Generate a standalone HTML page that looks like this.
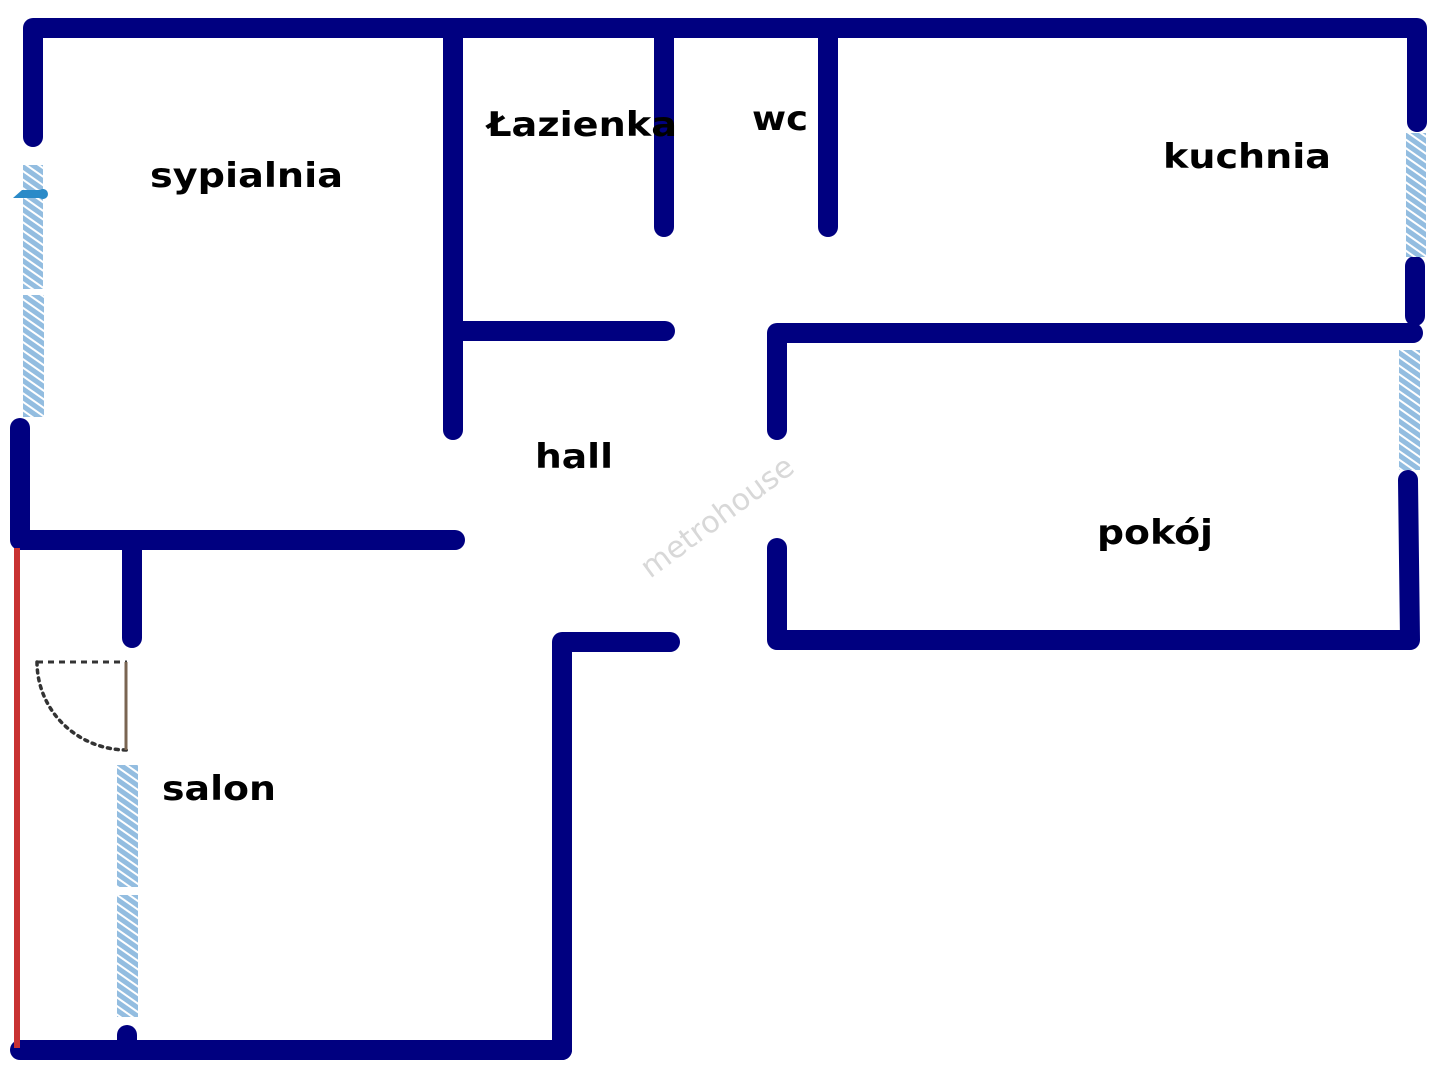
<!DOCTYPE html>
<html><head><meta charset="utf-8"><style>
html,body{margin:0;padding:0;background:#fff;width:1440px;height:1080px;overflow:hidden}
text{font-family:"DejaVu Sans","Liberation Sans",sans-serif;font-weight:bold;fill:#000}
</style></head><body>
<svg width="1440" height="1080" viewBox="0 0 1440 1080" xmlns="http://www.w3.org/2000/svg">
<defs>
<pattern id="h" width="7" height="7" patternUnits="userSpaceOnUse" patternTransform="rotate(35)">
<rect width="7" height="7" fill="#93bde0"/><rect width="7" height="2" fill="#fff"/>
</pattern>
</defs>
<g stroke="#000080" stroke-width="20" stroke-linecap="round" fill="none" stroke-linejoin="round">
<polyline points="33,137 33,28 1417,28 1417,122"/>
<line x1="1415" y1="266" x2="1415" y2="316"/>
<polyline points="777,430 777,333 1413,333"/>
<polyline points="777,548 777,640 1410,640 1408,480"/>
<line x1="453" y1="28" x2="453" y2="430"/>
<line x1="453" y1="331" x2="665" y2="331"/>
<line x1="664" y1="28" x2="664" y2="227"/>
<line x1="828" y1="28" x2="828" y2="227"/>
<polyline points="20,428 20,540 455,540"/>
<line x1="132" y1="540" x2="132" y2="638"/>
<line x1="20" y1="1050" x2="562" y2="1050"/>
<polyline points="562,1050 562,642 670,642"/>
<line x1="127" y1="1035" x2="127" y2="1048"/>
</g>
<rect x="14" y="548" width="6" height="500" fill="#c83232"/>
<rect x="23" y="165" width="20" height="124" fill="url(#h)"/>
<rect x="23" y="295" width="21" height="122" fill="url(#h)"/>
<rect x="1406" y="133" width="20" height="124" fill="url(#h)"/>
<rect x="1399" y="350" width="21" height="120" fill="url(#h)"/>
<rect x="117" y="765" width="21" height="122" fill="url(#h)"/>
<rect x="117" y="895" width="21" height="122" fill="url(#h)"/>
<path d="M13,198 L22,190 L40,190 A5,5 0 1 1 40,198 Z" fill="#2a8ac8"/>
<line x1="37" y1="662" x2="127" y2="662" stroke="#333" stroke-width="3" stroke-dasharray="6,5"/>
<path d="M37,662 A90,88 0 0 0 127,750" stroke="#333" stroke-width="3.5" stroke-dasharray="3,5" fill="none" stroke-linecap="round"/>
<line x1="126" y1="662" x2="126" y2="750" stroke="#7a6552" stroke-width="3"/>
<text x="150" y="187" font-size="34" textLength="193" lengthAdjust="spacingAndGlyphs">sypialnia</text>
<text x="487" y="136" font-size="34" textLength="190" lengthAdjust="spacingAndGlyphs">Łazienka</text>
<text x="752" y="130" font-size="34" textLength="56" lengthAdjust="spacingAndGlyphs">wc</text>
<text x="1163" y="168" font-size="34" textLength="168" lengthAdjust="spacingAndGlyphs">kuchnia</text>
<text x="535" y="468" font-size="34" textLength="78" lengthAdjust="spacingAndGlyphs">hall</text>
<text x="1097" y="544" font-size="34" textLength="116" lengthAdjust="spacingAndGlyphs">pokój</text>
<text x="162" y="800" font-size="34" textLength="114" lengthAdjust="spacingAndGlyphs">salon</text>
<text x="0" y="0" font-size="30" textLength="182" lengthAdjust="spacingAndGlyphs" transform="translate(650,579) rotate(-36.5)" style="font-weight:normal;fill:#d8d8d8;font-family:'DejaVu Sans',sans-serif">metrohouse</text>
</svg>
</body></html>
